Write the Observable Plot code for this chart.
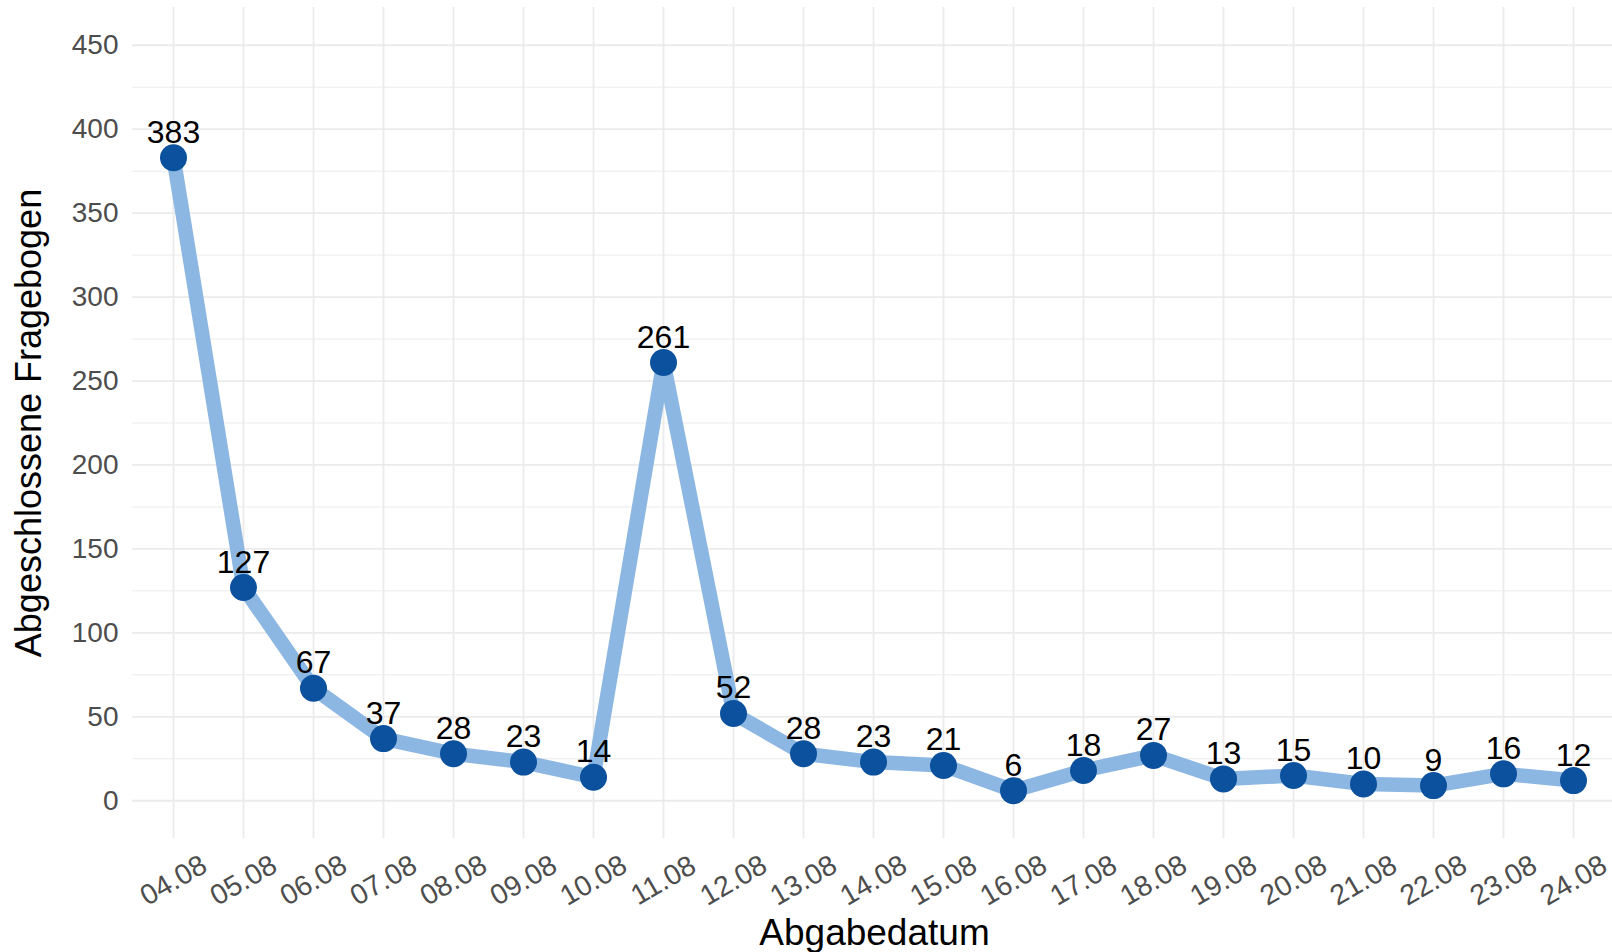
<!DOCTYPE html>
<html>
<head>
<meta charset="utf-8">
<script src="https://cdn.jsdelivr.net/npm/d3@7"></script>
<script src="https://cdn.jsdelivr.net/npm/@observablehq/plot@0.6"></script>
<style>
  html, body { margin: 0; padding: 0; background: #fff; }
  svg { display: block; }
</style>
</head>
<body>
<div id="chart"></div>
<script>
const dates = ["04.08","05.08","06.08","07.08","08.08","09.08","10.08","11.08","12.08","13.08","14.08","15.08","16.08","17.08","18.08","19.08","20.08","21.08","22.08","23.08","24.08"];
const values = [383,127,67,37,28,23,14,261,52,28,23,21,6,18,27,13,15,10,9,16,12];
const majorTicks = [0,50,100,150,200,250,300,350,400,450];
const minorTicks = [25,75,125,175,225,275,325,375,425];
const xTitle = "Abgabedatum";
const yTitle = "Abgeschlossene Fragebogen";

const data = dates.map((d, i) => ({date: d, value: values[i]}));

const W = 1612, H = 952;
const font = "'Liberation Sans', Arial, Helvetica, sans-serif";

const chart = Plot.plot({
  width: W,
  height: H,
  marginLeft: 132,
  marginRight: 0,
  marginTop: 7,
  marginBottom: 114,
  style: {fontFamily: font, background: "#fff", overflow: "visible"},
  x: {type: "point", domain: dates, range: [173, 1573], padding: 0, axis: null},
  y: {domain: [-22.5, 472.5], axis: null},
  marks: [
    Plot.gridY(minorTicks, {stroke: "#ebebeb", strokeOpacity: 1, strokeWidth: 1}),
    Plot.gridY(majorTicks, {stroke: "#ebebeb", strokeOpacity: 1, strokeWidth: 1.8}),
    Plot.gridX(dates, {stroke: "#ebebeb", strokeOpacity: 1, strokeWidth: 1.8}),
    Plot.line(data, {x: "date", y: "value", stroke: "#8db7e3", strokeWidth: 14.5, strokeLinejoin: "round", strokeLinecap: "butt"}),
    Plot.dot(data, {x: "date", y: "value", r: 13.5, fill: "#0b519d", stroke: "none"}),
    Plot.text(data, {x: "date", y: "value", text: d => String(d.value), dy: -15, lineAnchor: "bottom", fontSize: 32, fill: "#000"}),
    // y tick labels
    Plot.text(majorTicks, {y: d => d, text: d => String(d), frameAnchor: "left", textAnchor: "end", dx: -14, lineAnchor: "middle", fontSize: 28, fill: "#4d4d4d"}),
    // x tick labels
    Plot.text(dates, {x: d => d, text: d => d, frameAnchor: "bottom", textAnchor: "middle", lineAnchor: "middle", rotate: -30, dy: 42, fontSize: 28.5, fill: "#4d4d4d"}),
    // axis titles
    Plot.text([xTitle], {text: d => d, frameAnchor: "bottom", dx: 874 - (132 + W) / 2, dy: 106, lineAnchor: "bottom", textAnchor: "middle", fontSize: 37, fill: "#000"}),
    Plot.text([yTitle], {text: d => d, frameAnchor: "left", rotate: -90, dx: -92, lineAnchor: "bottom", textAnchor: "middle", fontSize: 36, fill: "#000"})
  ]
});
document.getElementById("chart").appendChild(chart);
</script>
</body>
</html>
